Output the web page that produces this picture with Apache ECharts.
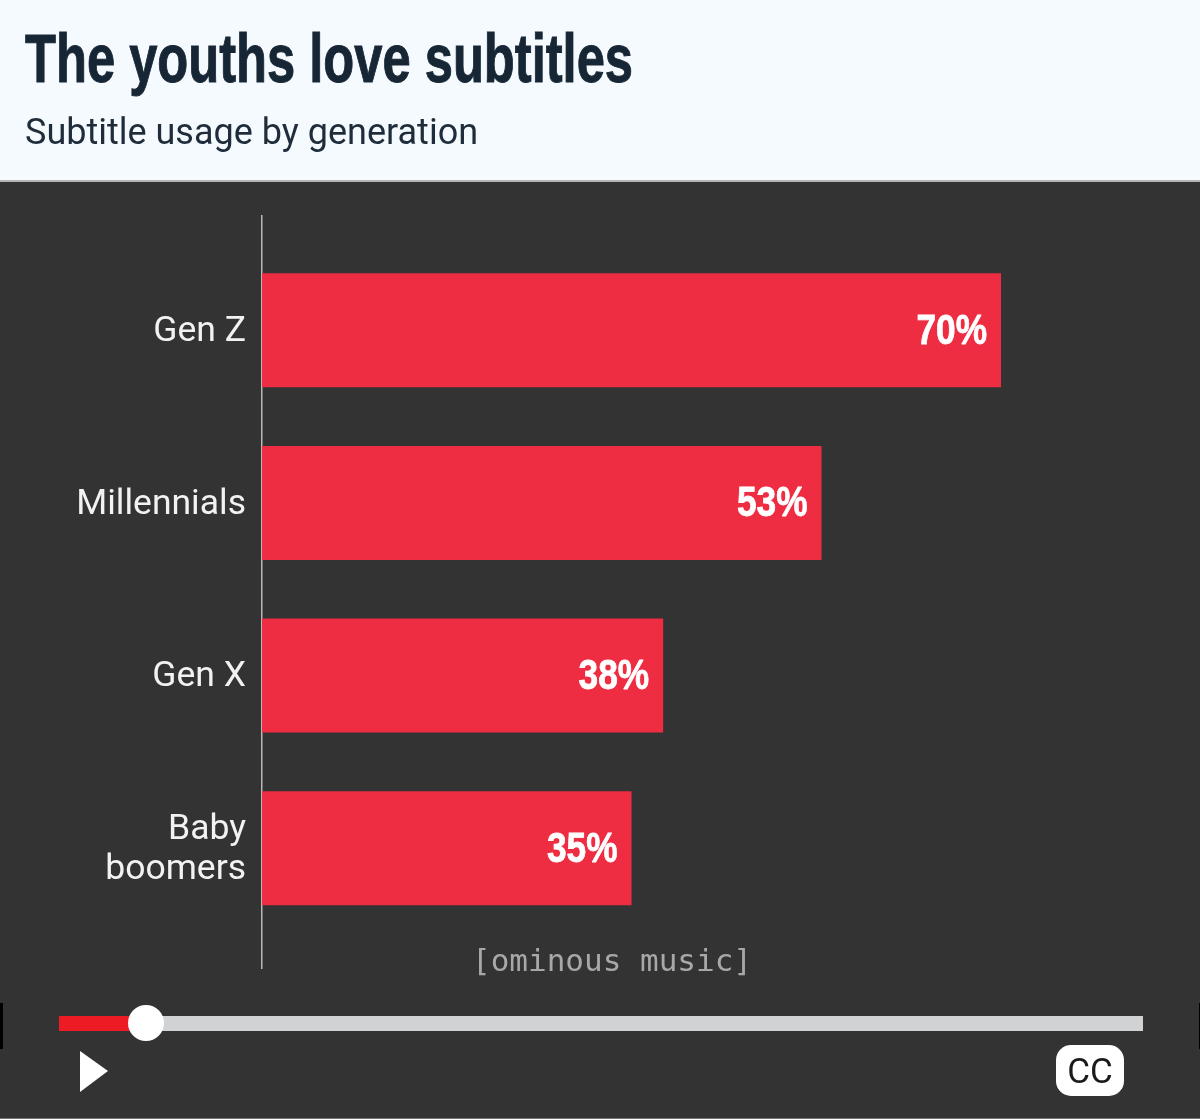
<!DOCTYPE html>
<html>
<head>
<meta charset="utf-8">
<title>The youths love subtitles</title>
<script src="https://cdn.jsdelivr.net/npm/echarts@6/dist/echarts.min.js"></script>
<style>
	html, body { margin: 0; padding: 0; background: #333333; }
	#main { width: 1200px; height: 1119px; }
</style>
</head>
<body>
<div id="main"></div>
<script>
var titleText = 'The youths love subtitles';
var subtitleText = 'Subtitle usage by generation';
var captionText = '[ominous music]';
var categories = ['Gen Z', 'Millennials', 'Gen X', 'Baby\nboomers'];
var usage = [70, 53, 38, 35];

var myChart = echarts.init(document.getElementById('main'));
var option = {
	backgroundColor: '#333333',
	animation: false,
	grid: {
		left: 262,
		top: 243.9,
		width: 844.6,
		height: 690.6
	},
	xAxis: {
		type: 'value',
		min: 0,
		max: 80,
		show: false
	},
	yAxis: {
		type: 'category',
		inverse: true,
		data: categories,
		axisLine: { show: false },
		axisTick: { show: false },
		axisLabel: {
			margin: 16,
			align: 'right',
			formatter: '{a|{value}}',
			rich: {
				a: {
					color: '#f2f2f2',
					fontFamily: 'Roboto',
					fontSize: 35.5,
					lineHeight: 40,
					padding: [4, 0, 0, 0]
				}
			}
		}
	},
	series: [{
		type: 'bar',
		data: usage,
		barWidth: 114,
		itemStyle: {
			color: '#ee2c42'
		}
	}, {
		// value labels, custom so the text can be squeezed to a condensed look
		type: 'custom',
		data: usage,
		encode: { x: 0, y: 1 },
		z: 5,
		renderItem: function (params, api) {
			var pos = api.coord([api.value(0), params.dataIndex]);
			return {
				type: 'text',
				x: pos[0] - 14,
				y: pos[1] + 2,
				scaleX: 0.84,
				style: {
					text: api.value(0) + '%',
					fill: '#ffffff',
					stroke: '#ffffff',
					lineWidth: 0.8,
					font: 'bold 42px "Liberation Sans"',
					textAlign: 'right',
					textVerticalAlign: 'middle'
				}
			};
		}
	}],
	graphic: [
		// panel behind the title
		{ type: 'rect', z: -1, shape: { x: 0, y: 0, width: 1200, height: 180 }, style: { fill: '#f5faff' } },
		{ type: 'rect', z: -1, shape: { x: 0, y: 180, width: 1200, height: 2 }, style: { fill: '#b5b5b5' } },
		{ type: 'rect', z: -1, shape: { x: 0, y: 1118, width: 1200, height: 1 }, style: { fill: '#777777' } },
		{
			type: 'text',
			x: 25,
			y: 63,
			scaleX: 0.745,
			style: {
				text: titleText,
				fill: '#172634',
				stroke: '#172634',
				lineWidth: 1,
				font: 'bold 68px "Liberation Sans"',
				textAlign: 'left',
				textVerticalAlign: 'middle'
			}
		},
		{
			type: 'text',
			x: 25,
			y: 135,
			style: {
				text: subtitleText,
				fill: '#1f2d3a',
				font: '36px Roboto',
				textAlign: 'left',
				textVerticalAlign: 'middle'
			}
		},
		// vertical axis line
		{ type: 'rect', shape: { x: 261, y: 215, width: 1.5, height: 754 }, style: { fill: '#b8b8b8' } },
		{
			type: 'text',
			x: 612,
			y: 963,
			style: {
				text: captionText,
				fill: '#a8a8a8',
				font: '31px "DejaVu Sans Mono"',
				textAlign: 'center',
				textVerticalAlign: 'middle'
			}
		},
		// player controls
		{ type: 'rect', shape: { x: 0, y: 1003, width: 3, height: 46 }, style: { fill: '#000000' } },
		{ type: 'rect', shape: { x: 1199, y: 1003, width: 1, height: 46 }, style: { fill: '#000000' } },
		{ type: 'rect', shape: { x: 59, y: 1016, width: 1084, height: 15 }, style: { fill: '#d1d2d4' } },
		{ type: 'rect', shape: { x: 59, y: 1016, width: 87, height: 15 }, style: { fill: '#ed1c24' } },
		{ type: 'circle', shape: { cx: 146, cy: 1023, r: 18 }, style: { fill: '#ffffff' } },
		{
			type: 'polygon',
			shape: { points: [[80, 1051], [108, 1071], [80, 1092]] },
			style: { fill: '#ffffff' }
		},
		{ type: 'rect', shape: { x: 1056, y: 1045, width: 68, height: 51, r: 15 }, style: { fill: '#ffffff' } },
		{
			type: 'text',
			x: 1090,
			y: 1074,
			style: {
				text: 'CC',
				fill: '#1a1a1a',
				font: '35px Roboto',
				textAlign: 'center',
				textVerticalAlign: 'middle'
			}
		}
	]
};
if (option && typeof option === "object") {
	myChart.setOption(option, true);
}
</script>
</body>
</html>
